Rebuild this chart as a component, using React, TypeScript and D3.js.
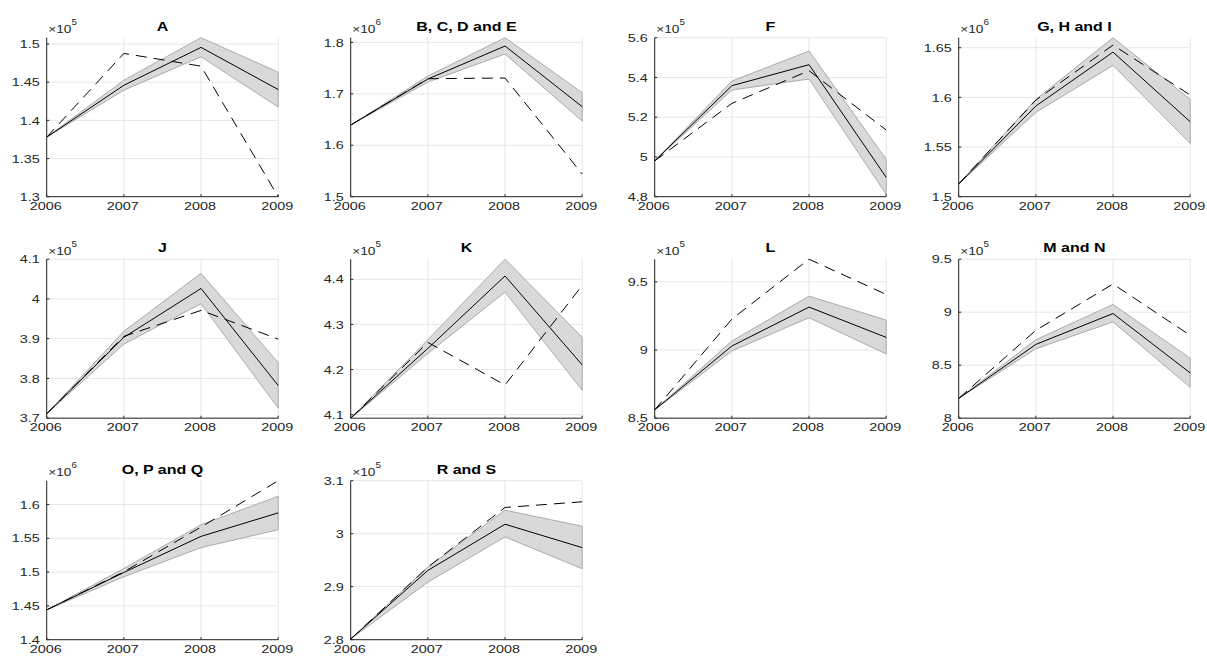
import React from "react";
import * as d3 from "d3";

const years = [2006, 2007, 2008, 2009];

const titles = ["A", "B, C, D and E", "F", "G, H and I", "J", "K", "L", "M and N", "O, P and Q", "R and S"];
const exponents = [5, 6, 5, 6, 5, 5, 5, 5, 6, 5];

// values in units of 10^exponent
const A_mean = [1.378, 1.446, 1.4956, 1.4404];
const A_hi = [1.378, 1.4526, 1.5083, 1.4632];
const A_lo = [1.378, 1.4395, 1.4833, 1.4175];
const A_dash = [1.378, 1.4877, 1.471, 1.3];

const B_mean = [1.6393, 1.7287, 1.7929, 1.675];
const B_hi = [1.6393, 1.7346, 1.8091, 1.7022];
const B_lo = [1.6393, 1.7229, 1.7773, 1.6471];
const B_dash = [1.6393, 1.7294, 1.7307, 1.544];

const F_mean = [4.98, 5.3585, 5.4642, 4.8973];
const F_hi = [4.98, 5.382, 5.533, 4.988];
const F_lo = [4.98, 5.3367, 5.392, 4.812];
const F_dash = [4.98, 5.2696, 5.434, 5.1354];

const G_mean = [1.5128, 1.5913, 1.6456, 1.5755];
const G_hi = [1.5128, 1.598, 1.6601, 1.598];
const G_lo = [1.5128, 1.5849, 1.6322, 1.5537];
const G_dash = [1.5128, 1.5973, 1.6527, 1.6023];

const J_mean = [3.711, 3.9034, 4.0263, 3.7822];
const J_hi = [3.711, 3.9186, 4.0644, 3.8398];
const J_lo = [3.711, 3.8864, 3.9881, 3.7254];
const J_dash = [3.711, 3.906, 3.9712, 3.8992];

const K_mean = [4.0922, 4.2468, 4.4074, 4.2104];
const K_hi = [4.0922, 4.2662, 4.4446, 4.2714];
const K_lo = [4.0922, 4.2357, 4.3717, 4.1539];
const K_dash = [4.0922, 4.2602, 4.1658, 4.3866];

const L_mean = [8.561, 9.0293, 9.3146, 9.0927];
const L_hi = [8.561, 9.0659, 9.3951, 9.2195];
const L_lo = [8.561, 8.9927, 9.2366, 8.9707];
const L_dash = [8.561, 9.2268, 9.6659, 9.4073];

const M_mean = [8.1867, 8.6962, 8.9873, 8.4272];
const M_hi = [8.1867, 8.7405, 9.0728, 8.5665];
const M_lo = [8.1867, 8.655, 8.9082, 8.2911];
const M_dash = [8.1867, 8.8291, 9.2658, 8.7816];

const O_mean = [1.4441, 1.4995, 1.5529, 1.5877];
const O_hi = [1.4441, 1.5054, 1.5701, 1.6123];
const O_lo = [1.4441, 1.4931, 1.5363, 1.5627];
const O_dash = [1.4441, 1.5005, 1.5667, 1.6353];

const R_mean = [2.8013, 2.9307, 3.0179, 2.9737];
const R_hi = [2.8013, 2.937, 3.0444, 3.0141];
const R_lo = [2.8013, 2.9086, 2.9939, 2.9339];
const R_dash = [2.8013, 2.937, 3.0495, 3.0602];

const yLims: [number, number][] = [
  [1.3, 1.5083], [1.5, 1.8091], [4.8, 5.6], [1.5, 1.6601], [3.7, 4.1],
  [4.0922, 4.4446], [8.5, 9.6659], [8.0, 9.5], [1.4, 1.6353], [2.8, 3.1],
];
const yTicks: number[][] = [
  [1.3, 1.35, 1.4, 1.45, 1.5],
  [1.5, 1.6, 1.7, 1.8],
  [4.8, 5, 5.2, 5.4, 5.6],
  [1.5, 1.55, 1.6, 1.65],
  [3.7, 3.8, 3.9, 4, 4.1],
  [4.1, 4.2, 4.3, 4.4],
  [8.5, 9, 9.5],
  [8, 8.5, 9, 9.5],
  [1.4, 1.45, 1.5, 1.55, 1.6],
  [2.8, 2.9, 3, 3.1],
];

const means = [A_mean, B_mean, F_mean, G_mean, J_mean, K_mean, L_mean, M_mean, O_mean, R_mean];
const his = [A_hi, B_hi, F_hi, G_hi, J_hi, K_hi, L_hi, M_hi, O_hi, R_hi];
const los = [A_lo, B_lo, F_lo, G_lo, J_lo, K_lo, L_lo, M_lo, O_lo, R_lo];
const dashes = [A_dash, B_dash, F_dash, G_dash, J_dash, K_dash, L_dash, M_dash, O_dash, R_dash];

const W = 1207;
const H = 661;
const FONT = "'Liberation Sans', Arial, Helvetica, sans-serif";
const AX = "#262626";
const SX = 1.22; // horizontal stretch of the text glyphs
const TSX = 1.27;

function fmt(v: number) {
  return String(+v.toFixed(3));
}

function Panel({ i }: { i: number }) {
  const col = i % 4;
  const row = Math.floor(i / 4);
  const left = 46.7 + 304 * col;
  const width = 231.5;
  const top = 37.7 + 221.5 * row;
  const height = 159;
  const x = d3.scaleLinear().domain([2006, 2009]).range([left, left + width]);
  const y = d3.scaleLinear().domain(yLims[i]).range([top + height, top]);
  const line = d3.line<number>().x((_, k) => x(years[k])).y((d) => y(d));
  const area = d3
    .area<number>()
    .x((_, k) => x(years[k]))
    .y0((_, k) => y(los[i][k]))
    .y1((_, k) => y(his[i][k]));
  const bottom = top + height;
  return (
    <g>
      <defs>
        <clipPath id={`clip${i}`}>
          <rect x={left} y={top - 1} width={width + 1} height={height + 2} />
        </clipPath>
      </defs>
      {yTicks[i].map((t) => (
        <line key={"gy" + t} x1={left} x2={left + width} y1={y(t)} y2={y(t)} stroke="#e6e6e6" strokeWidth={1} />
      ))}
      {years.map((t) => (
        <line key={"gx" + t} x1={x(t)} x2={x(t)} y1={top} y2={bottom} stroke="#e6e6e6" strokeWidth={1} />
      ))}
      <g clipPath={`url(#clip${i})`}>
        <path d={area(means[i]) || ""} fill="#d9d9d9" stroke="#9a9a9a" strokeWidth={0.8} />
        <path d={line(dashes[i]) || ""} fill="none" stroke="#000" strokeWidth={1} strokeDasharray="11,7" />
        <path d={line(means[i]) || ""} fill="none" stroke="#000" strokeWidth={1} />
      </g>
      <line x1={left} x2={left} y1={top} y2={bottom} stroke={AX} strokeWidth={1} />
      <line x1={left} x2={left + width} y1={bottom} y2={bottom} stroke={AX} strokeWidth={1} />
      {yTicks[i].map((t) => (
        <g key={"ty" + t}>
          <line x1={left} x2={left + 2.5} y1={y(t)} y2={y(t)} stroke={AX} strokeWidth={1} />
          <text
            transform={`translate(${left - 7},${y(t)}) scale(${SX},1)`}
            dy="0.35em"
            textAnchor="end"
            fontSize={11.8}
            fontFamily={FONT}
            fill={AX}
          >
            {fmt(t)}
          </text>
        </g>
      ))}
      {years.map((t) => (
        <g key={"tx" + t}>
          <line x1={x(t)} x2={x(t)} y1={bottom} y2={bottom - 2.5} stroke={AX} strokeWidth={1} />
          <text
            transform={`translate(${x(t) - 1},${bottom + 13}) scale(${SX},1)`}
            textAnchor="middle"
            fontSize={11.8}
            fontFamily={FONT}
            fill={AX}
          >
            {t}
          </text>
        </g>
      ))}
      <text
        transform={`translate(${left + 1.5},${top - 4.5}) scale(${SX * 0.95},1)`}
        fontSize={11.8}
        fontFamily={FONT}
        fill={AX}
      >
        ×10
        <tspan dy={-8} fontSize={8.5}>
          {exponents[i]}
        </tspan>
      </text>
      <text
        transform={`translate(${left + width / 2},${top - 7}) scale(${TSX},1)`}
        textAnchor="middle"
        fontSize={12.6}
        fontWeight="bold"
        fontFamily={FONT}
        fill="#000"
      >
        {titles[i]}
      </text>
    </g>
  );
}

export default function App() {
  return (
    <svg
      width={W}
      height={H}
      viewBox={`0 0 ${W} ${H}`}
      style={{ position: "absolute", left: 0, top: 0, background: "#fff" }}
    >
      <rect x={0} y={0} width={W} height={H} fill="#fff" />
      {titles.map((_, i) => (
        <Panel key={i} i={i} />
      ))}
    </svg>
  );
}
